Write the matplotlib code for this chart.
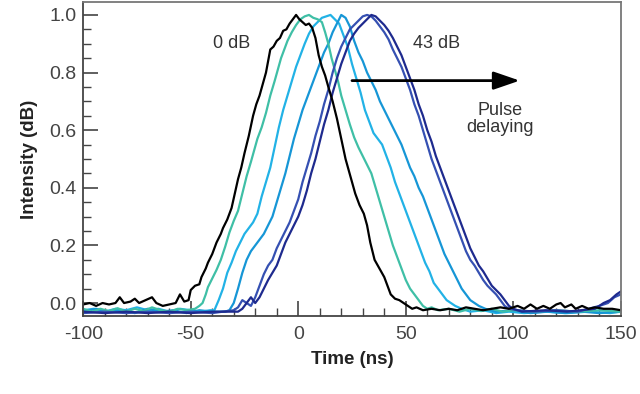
import matplotlib
matplotlib.use("Agg")
import matplotlib.pyplot as plt
from matplotlib.ticker import MultipleLocator

plt.rcParams['font.family'] = ['Liberation Sans', 'DejaVu Sans']
plt.rcParams['axes.unicode_minus'] = False

# traces: (time ns, intensity)
black = [(-100,-0.005),(-97,0.0),(-94,-0.01),(-91,0.0),(-88,-0.005),(-85,0.0),(-83,0.02),(-81,0.0),
         (-78,0.005),(-76,0.015),(-74,0.0),(-71,0.01),(-68,0.02),(-66,0.0),(-63,-0.01),(-60,-0.005),
         (-57,0.0),(-55,0.03),(-53,0.005),(-51,0.01),(-50,0.045),(-48,0.06),(-46,0.065),(-45,0.09),
         (-43,0.12),(-42,0.14),(-40,0.17),(-38,0.21),(-36,0.24),(-35,0.26),(-33,0.29),(-31,0.33),
         (-29.5,0.38),(-28,0.43),(-26.5,0.47),(-25,0.52),(-23,0.58),(-21,0.65),(-19.5,0.69),(-18,0.72),
         (-16.5,0.76),(-15,0.80),(-14,0.84),(-13,0.88),(-11.5,0.89),(-10,0.91),(-8.5,0.92),(-7,0.945),
         (-5.5,0.95),(-4,0.97),(-2.5,0.985),(-1,1.0),(0.5,0.985),(2,0.975),(3.5,0.965),(5,0.97),
         (6.5,0.955),(8,0.92),(9.5,0.86),(11,0.82),(12.5,0.79),(14,0.75),(16,0.70),(18,0.64),(20,0.57),
         (22,0.50),(23.5,0.46),(25,0.42),(26.5,0.38),(28.5,0.34),(30.5,0.31),(32,0.27),(33.5,0.21),
         (35.5,0.15),(37,0.13),(38.5,0.11),(40,0.09),(41.5,0.06),(43,0.03),(45,0.015),(47,0.01),
         (49,0.0),(51,-0.01),(53,-0.02),(55,-0.015),(58,-0.025),(62,-0.02),(66,-0.025),(70,-0.02),
         (74,-0.025),(78,-0.015),(82,-0.02),(86,-0.025),(90,-0.02),(94,-0.015),(98,-0.02),(102,-0.01),
         (105,-0.02),(108,-0.005),(111,-0.02),(114,-0.01),(117,-0.02),(120,-0.005),(122,0.0),
         (124,-0.015),(127,-0.005),(129,-0.02),(132,-0.01),(135,-0.02),(138,-0.015),(142,-0.02),
         (146,-0.02),(150,-0.025)]

teal = [(-100,-0.02),(-96,-0.03),(-92,-0.02),(-88,-0.028),(-84,-0.018),(-80,-0.03),(-76,-0.02),
        (-72,-0.028),(-68,-0.015),(-64,-0.025),(-60,-0.03),(-56,-0.02),(-52,-0.025),(-48,-0.02),
        (-46,-0.01),(-44.5,0.0),(-43,0.03),(-42,0.055),(-40,0.085),(-38,0.115),(-36,0.15),(-34,0.195),
        (-32,0.245),(-30,0.285),(-28,0.32),(-26,0.38),(-24,0.44),(-22,0.49),(-20.5,0.53),(-19,0.57),
        (-17,0.61),(-15,0.66),(-13,0.72),(-11,0.77),(-9.5,0.81),(-8,0.85),(-6.5,0.88),(-5,0.91),
        (-3,0.94),(-1,0.965),(1,0.985),(3,0.995),(5,1.0),(7,0.99),(9,0.985),(11,0.975),(12.5,0.94),
        (14,0.90),(15.5,0.85),(17,0.81),(18.5,0.77),(20,0.72),(22,0.67),(24,0.62),(26,0.575),(28,0.54),
        (30,0.51),(32,0.48),(34,0.45),(36,0.40),(38,0.35),(40,0.30),(42,0.25),(44,0.20),(46,0.16),
        (48,0.12),(50,0.08),(52,0.05),(54,0.03),(56,0.01),(58,-0.01),(60,-0.02),(62,-0.015),(65,-0.025),
        (70,-0.02),(75,-0.03),(80,-0.02),(85,-0.028),(90,-0.02),(95,-0.03),(100,-0.025),(110,-0.03),
        (120,-0.025),(130,-0.03),(140,-0.025),(150,-0.03)]

cyan = [(-100,-0.025),(-95,-0.02),(-90,-0.03),(-85,-0.02),(-80,-0.025),(-75,-0.015),(-70,-0.025),
        (-65,-0.02),(-60,-0.03),(-55,-0.02),(-50,-0.025),(-45,-0.03),(-41,-0.025),(-39,-0.025),
        (-37,0.01),(-35,0.05),(-33,0.105),(-31,0.14),(-29,0.18),(-27,0.21),(-25,0.24),(-23,0.26),
        (-21,0.28),(-19,0.31),(-17,0.37),(-15,0.42),(-13,0.47),(-11,0.54),(-9,0.61),(-7,0.67),
        (-5,0.72),(-3,0.77),(-1,0.82),(1,0.86),(3,0.90),(5,0.935),(7,0.96),(9,0.975),(11,0.99),
        (13,0.995),(15,1.0),(17,0.985),(19,0.97),(21,0.93),(23,0.89),(25,0.83),(27,0.78),(29,0.73),
        (31,0.67),(33,0.63),(35,0.59),(37,0.57),(39,0.55),(41,0.51),(43,0.47),(45,0.42),(47,0.38),
        (49,0.34),(51,0.30),(53,0.26),(55,0.22),(57,0.18),(59,0.14),(61,0.11),(63,0.07),(65,0.05),
        (67,0.03),(69,0.01),(71,0.0),(73,-0.01),(76,-0.02),(80,-0.03),(86,-0.025),(92,-0.035),
        (98,-0.03),(105,-0.035),(115,-0.03),(125,-0.035),(135,-0.03),(145,-0.035),(150,-0.03)]

blue = [(-100,-0.03),(-94,-0.02),(-88,-0.03),(-82,-0.025),(-76,-0.035),(-70,-0.02),(-64,-0.03),
        (-58,-0.025),(-52,-0.035),(-46,-0.025),(-40,-0.03),(-34,-0.03),(-32,-0.025),(-30,0.0),
        (-28,0.05),(-26,0.105),(-24,0.15),(-22,0.18),(-20,0.2),(-18,0.22),(-16,0.24),(-14,0.27),
        (-12,0.30),(-10,0.35),(-8,0.40),(-6,0.45),(-4,0.51),(-2,0.57),(0,0.62),(2,0.67),(4,0.71),
        (6,0.75),(8,0.79),(10,0.83),(12,0.87),(14,0.90),(16,0.94),(18,0.97),(20,1.0),(22,0.99),
        (24,0.96),(26,0.91),(28,0.87),(30,0.84),(32,0.80),(34,0.77),(36,0.74),(38,0.70),(40,0.67),
        (42,0.64),(44,0.61),(46,0.58),(48,0.55),(50,0.51),(52,0.47),(54,0.44),(56,0.40),(58,0.37),
        (60,0.33),(62,0.29),(64,0.25),(66,0.21),(68,0.17),(70,0.14),(72,0.11),(74,0.08),(76,0.05),
        (78,0.03),(80,0.01),(82,0.0),(84,-0.01),(87,-0.02),(92,-0.03),(100,-0.025),(108,-0.035),
        (116,-0.03),(124,-0.035),(132,-0.03),(140,-0.035),(150,-0.03)]

dark = [(-100,-0.035),(-90,-0.03),(-80,-0.035),(-70,-0.03),(-60,-0.035),(-50,-0.03),(-40,-0.035),
        (-30,-0.025),(-28,-0.015),(-26,0.01),(-24,0.0),(-22,-0.01),(-20,0.02),(-18,0.06),(-16,0.10),
        (-14,0.13),(-12,0.15),(-10,0.19),(-8,0.22),(-6,0.25),(-4,0.28),(-2,0.32),(0,0.36),(2,0.42),
        (4,0.47),(6,0.52),(8,0.58),(10,0.63),(12,0.69),(14,0.74),(16,0.80),(18,0.85),(20,0.89),
        (22,0.92),(24,0.95),(26,0.965),(28,0.98),(30,0.995),(32,1.0),(34,0.995),(36,0.98),(38,0.96),
        (40,0.94),(42,0.915),(44,0.88),(46,0.85),(48,0.82),(50,0.78),(52,0.74),(54,0.69),(56,0.65),
        (58,0.60),(60,0.55),(62,0.50),(64,0.46),(66,0.42),(68,0.38),(70,0.34),(72,0.30),(74,0.26),
        (76,0.22),(78,0.18),(80,0.15),(82,0.13),(84,0.105),(86,0.08),(88,0.06),(90,0.045),(92,0.03),
        (94,0.01),(96,-0.01),(98,-0.02),(102,-0.025),(110,-0.03),(120,-0.025),(130,-0.03),
        (140,-0.01),(144,0.0),(147,0.02),(150,0.03)]

navy = [(-100,-0.03),(-90,-0.035),(-80,-0.03),(-70,-0.035),(-60,-0.03),(-50,-0.035),(-40,-0.03),
        (-28,-0.03),(-26,-0.02),(-24,0.0),(-22,0.02),(-20,0.0),(-18,0.02),(-16,0.05),(-14,0.08),
        (-12,0.105),(-10,0.13),(-8,0.17),(-6,0.21),(-4,0.24),(-2,0.27),(0,0.30),(2,0.34),(4,0.39),
        (6,0.45),(8,0.50),(10,0.56),(12,0.62),(14,0.67),(16,0.73),(18,0.78),(20,0.83),(22,0.87),
        (24,0.91),(26,0.935),(28,0.955),(30,0.97),(32,0.985),(34,1.0),(36,0.995),(38,0.98),(40,0.965),
        (42,0.945),(44,0.92),(46,0.89),(48,0.86),(50,0.82),(52,0.78),(54,0.74),(56,0.69),(58,0.65),
        (60,0.60),(62,0.56),(64,0.51),(66,0.47),(68,0.43),(70,0.39),(72,0.35),(74,0.31),(76,0.27),
        (78,0.23),(80,0.19),(82,0.16),(84,0.13),(86,0.11),(88,0.085),(90,0.06),(92,0.045),(94,0.03),
        (96,0.01),(98,-0.01),(100,-0.02),(104,-0.03),(115,-0.025),(125,-0.03),(138,-0.02),(142,0.0),
        (145,0.01),(148,0.03),(150,0.04)]

traces = [cyan, blue, teal, dark, navy, black]
colors = ['#22b2e6', '#1696d6', '#3fbfa6', '#3550b2', '#1e2a8e', '#000000']

fig = plt.figure(figsize=(6.4, 3.94), dpi=100)
ax = fig.add_axes([0.130, 0.198, 0.840, 0.797])

for tr, c in zip(traces, colors):
    t = [p[0] for p in tr]
    v = [p[1] for p in tr]
    ax.plot(t, v, color=c, lw=1.6)

ax.set_xlim(-100, 150)
ax.set_ylim(-0.045, 1.045)
ax.xaxis.set_major_locator(MultipleLocator(50))
ax.xaxis.set_minor_locator(MultipleLocator(10))
ax.yaxis.set_major_locator(MultipleLocator(0.2))
ax.yaxis.set_minor_locator(MultipleLocator(0.05))
ax.yaxis.set_major_formatter(plt.FormatStrFormatter('%.1f'))
ax.tick_params(which='both', direction='in', color='#444444', labelcolor='#444444',
               labelsize=14, top=False, right=False)
ax.tick_params(which='major', length=11, width=1.2)
ax.tick_params(which='minor', length=6, width=1.0)
ax.tick_params(axis='y', pad=5)
ax.tick_params(axis='x', pad=7)
for s in ['left', 'bottom']:
    ax.spines[s].set_color('#444444')
    ax.spines[s].set_linewidth(1.3)
for s in ['top', 'right']:
    ax.spines[s].set_color('#777777')
    ax.spines[s].set_linewidth(1.3)

ax.set_xlabel('Time (ns)', fontsize=13.5, fontweight='bold', color='#222222', labelpad=6)
ax.set_ylabel('Intensity (dB)', fontsize=13.5, fontweight='bold', color='#222222', labelpad=8)

ax.text(-31, 0.90, '0 dB', fontsize=13, color='#333333', ha='center', va='center')
ax.text(64.5, 0.90, '43 dB', fontsize=13, color='#333333', ha='center', va='center')
ax.text(94, 0.64, 'Pulse\ndelaying', fontsize=13, color='#333333', ha='center', va='center',
        linespacing=1.0)
ax.annotate('', xy=(103, 0.772), xytext=(25, 0.772),
            arrowprops=dict(arrowstyle='-|>,head_length=1.6,head_width=0.55', color='black',
                            lw=2, shrinkA=0, shrinkB=0, mutation_scale=10))

fig.savefig('out.png', dpi=100)
